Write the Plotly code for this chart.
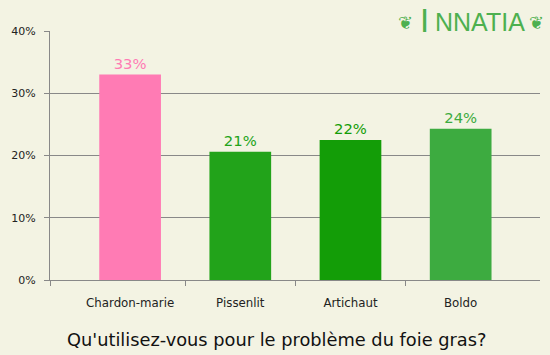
import plotly.graph_objects as go

categories = ["Chardon-marie", "Pissenlit", "Artichaut", "Boldo"]
values = [33.0, 20.6, 22.5, 24.3]
labels = ["33%", "21%", "22%", "24%"]
colors = ["#FF7BB4", "#22A31A", "#139D07", "#3DAB40"]
y_ticks = [0, 10, 20, 30, 40]
y_ticktext = ["0%", "10%", "20%", "30%", "40%"]
title = "Qu'utilisez-vous pour le problème du foie gras?"

bg = "#F3F3E3"
font = "DejaVu Sans, Verdana, sans-serif"
logo_font = "Liberation Sans, Arial, sans-serif"
logo_color = "#4DB04F"
xpos = list(range(len(categories)))

fig = go.Figure()
fig.add_trace(go.Bar(
    x=xpos, y=values, marker=dict(color=colors, line=dict(width=0)),
    width=0.56, text=labels, textposition="outside", cliponaxis=False,
    textfont=dict(color=colors, size=14.8, family=font), hoverinfo="skip",
))

W, H = 550, 355
L, R, T, B = 50, 10, 31, 75
pw, ph = W - L - R, H - T - B

def px(x):
    return (x - L) / pw

def py(y):
    return (H - B - y) / ph

fig.update_layout(
    width=W, height=H,
    margin=dict(l=L, r=R, t=T, b=B),
    paper_bgcolor=bg, plot_bgcolor=bg,
    showlegend=False,
    font=dict(family=font, color="#222222", size=11),
    xaxis=dict(
        range=[-0.727, 3.72], tickmode="array", tickvals=xpos, ticktext=categories,
        ticks="", showgrid=False, zeroline=False, fixedrange=True,
        showline=True, linecolor="#888888", linewidth=1,
        ticklabelstandoff=12, tickfont=dict(size=11.8, color="#222222"),
        minor=dict(tickmode="array", tickvals=[-0.727, 0.5, 1.5, 2.5], ticks="outside",
                   ticklen=5, tickcolor="#888888", tickwidth=1, showgrid=False),
    ),
    yaxis=dict(
        range=[0, 40], tickmode="array", tickvals=y_ticks, ticktext=y_ticktext,
        ticks="outside", ticklen=5, tickcolor="#888888", tickwidth=1,
        showgrid=True, gridcolor="#888888", gridwidth=1, zeroline=False,
        showline=True, linecolor="#888888", linewidth=1, fixedrange=True,
        ticklabelstandoff=6, tickfont=dict(size=11, color="#222222"),
    ),
    annotations=[
        dict(text=title, xref="paper", yref="paper", x=px(276), y=py(339),
             xanchor="center", yanchor="middle", showarrow=False,
             font=dict(size=17.8, color="#111111", family=font)),
        dict(text="I", xref="paper", yref="paper",
             x=px(424), y=py(41), xanchor="center", yanchor="bottom", showarrow=False,
             font=dict(size=33, color=logo_color, family=logo_font)),
        dict(text="NNATIA", xref="paper", yref="paper",
             x=px(527), y=py(38), xanchor="right", yanchor="bottom", showarrow=False,
             font=dict(size=25, color=logo_color, family=logo_font)),
        dict(text="❦", xref="paper", yref="paper", x=px(405), y=py(22),
             xanchor="center", yanchor="middle", showarrow=False,
             font=dict(size=18, color=logo_color, family=font)),
        dict(text="❦", xref="paper", yref="paper", x=px(536), y=py(22),
             xanchor="center", yanchor="middle", showarrow=False,
             font=dict(size=18, color=logo_color, family=font)),
    ],
)

fig.write_html("out.html", config={"displayModeBar": False},
               post_script="document.body.style.margin='0';document.body.style.overflow='hidden';")
